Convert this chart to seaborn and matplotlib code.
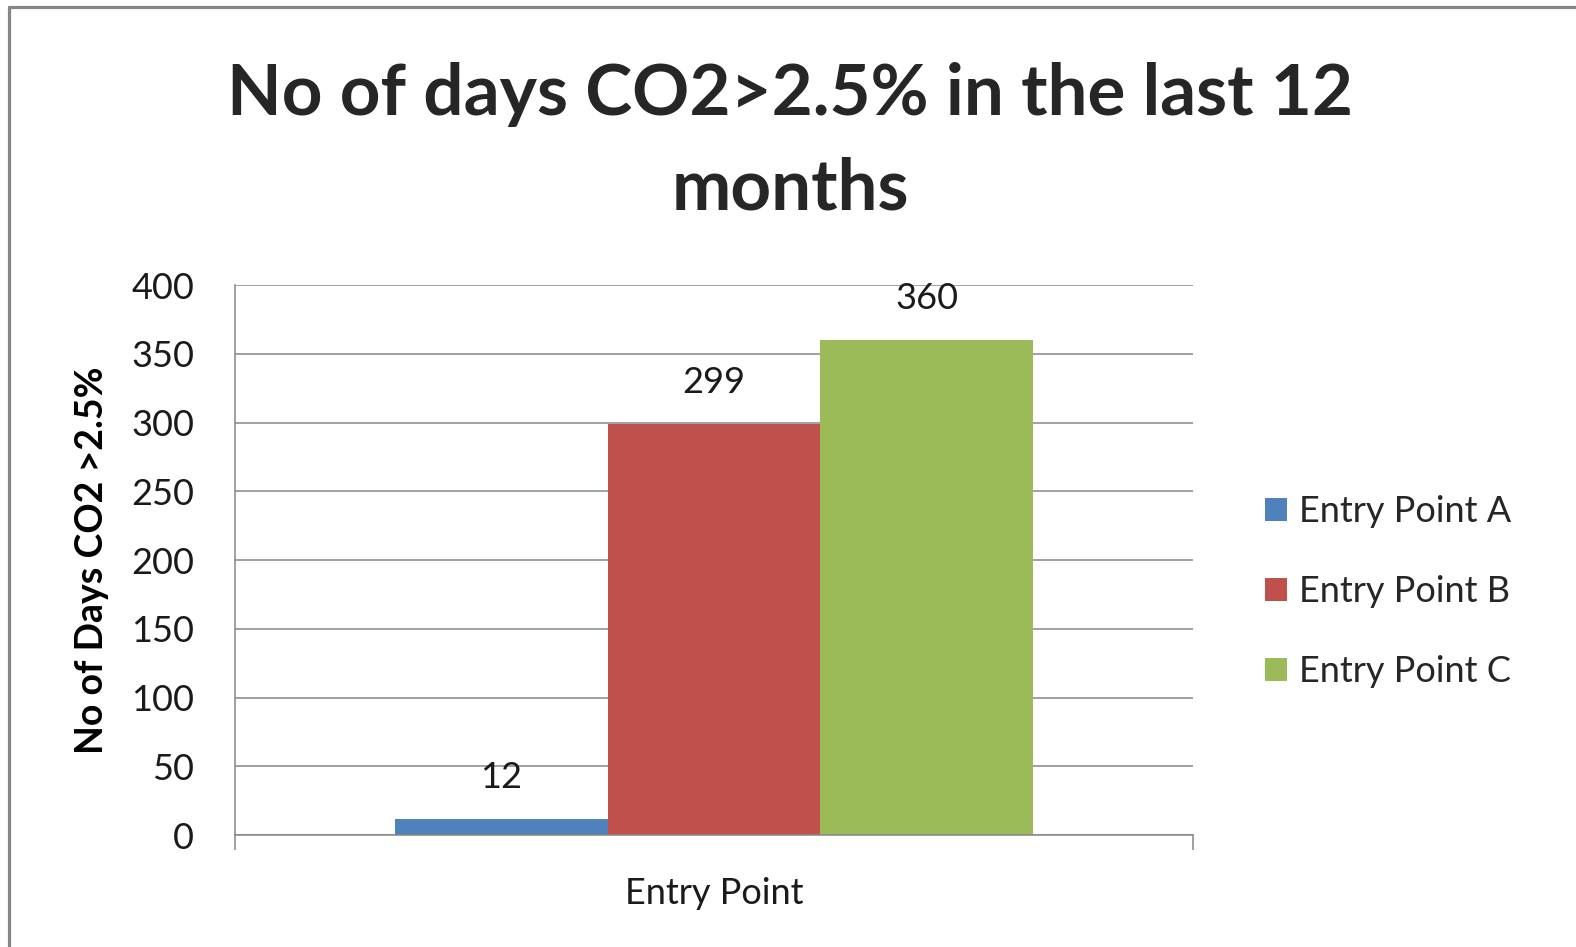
"""Bar chart: number of days with CO2 above 2.5% per entry point."""

import matplotlib

matplotlib.use("Agg")
import matplotlib.pyplot as plt
import pandas as pd
import seaborn as sns
from matplotlib.lines import Line2D

categories = ["Entry Point"] * 3
series_names = ["Entry Point A", "Entry Point B", "Entry Point C"]
days_values = [12, 299, 360]
series_colors = ["#4F81BD", "#C0504D", "#9BBB59"]
y_ticks = [0, 50, 100, 150, 200, 250, 300, 350, 400]

W, H = 1576, 947
GRID = "#868686"


def main() -> None:
    sns.set_theme(style="white")
    plt.rcParams["font.family"] = ["Lato", "DejaVu Sans"]

    df = pd.DataFrame({"category": categories, "series": series_names, "days": days_values})

    fig = plt.figure(figsize=(W / 100, H / 100), dpi=100)
    ax = fig.add_axes([235 / W, 1 - 835 / H, 958 / W, 550 / H])

    sns.barplot(
        data=df, x="category", y="days", hue="series", palette=series_colors,
        width=0.666, saturation=1, linewidth=0, ax=ax, legend=True,
    )

    ax.set_ylim(0, 400)
    ax.set_xlim(-0.5, 0.5)
    ax.set_yticks(y_ticks)
    ax.yaxis.grid(True, color=GRID, linewidth=1.1)
    ax.set_axisbelow(True)
    for side in ["top", "right"]:
        ax.spines[side].set_visible(False)
    for side in ["left", "bottom"]:
        ax.spines[side].set_color(GRID)
        ax.spines[side].set_linewidth(1.1)

    ax.tick_params(axis="y", length=9.5, width=1.1, color=GRID, labelsize=26, pad=20, labelcolor="#1a1a1a")
    ax.tick_params(axis="x", which="major", length=0, labelsize=26, pad=30, labelcolor="#1a1a1a")
    ax.set_xticks([-0.5, 0.5], minor=True)
    ax.tick_params(axis="x", which="minor", length=11, width=1.1, color=GRID, direction="out", bottom=True)

    ax.set_xlabel("")
    ax.set_ylabel("No of Days CO2 >2.5%", fontsize=27, fontweight="bold", va="center", color="black")
    ax.yaxis.set_label_coords(-0.149, 0.5)

    for container in ax.containers:
        ax.bar_label(container, fontsize=26, padding=18, color="#1a1a1a")

    ax.legend(
        loc="center left", bbox_to_anchor=(1.0605, 0.442), frameon=False, fontsize=26,
        handlelength=0.6, handleheight=0.6, handletextpad=0.33, labelspacing=1.3,
        borderaxespad=0,
    )

    fig.text(
        790 / W, 1 - 62 / H, "No of days CO2>2.5% in the last 12\nmonths",
        ha="center", va="top", fontsize=51, fontweight="bold", linespacing=1.55,
    )

    # chart frame like the spreadsheet export
    fig.add_artist(Line2D([9 / W, 9 / W], [0, 1 - 7 / H], color=GRID, linewidth=2.3, transform=fig.transFigure))
    fig.add_artist(Line2D([9 / W, 1], [1 - 7 / H, 1 - 7 / H], color=GRID, linewidth=2.3, transform=fig.transFigure))

    fig.savefig("out.png", dpi=100)
    plt.close(fig)


if __name__ == "__main__":
    main()
